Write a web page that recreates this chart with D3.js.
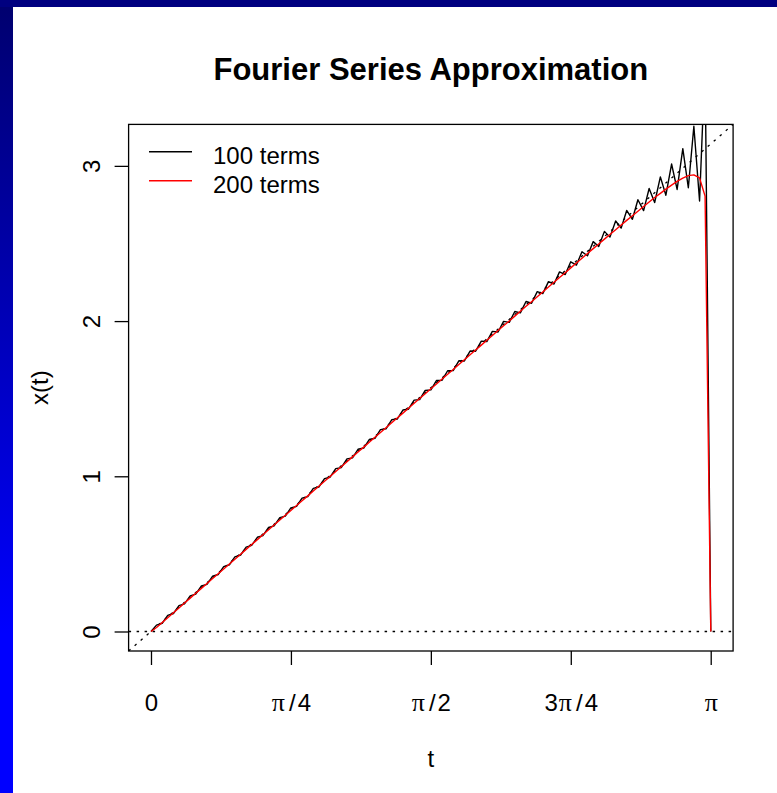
<!DOCTYPE html>
<html>
<head>
<meta charset="utf-8">
<script src="https://cdn.jsdelivr.net/npm/d3@7"></script>
<style>
  body { margin: 0; background: #fff; }
  svg { display: block; font-family: "Liberation Sans", Arial, sans-serif; }
</style>
</head>
<body>
<div id="chart"></div>
<script>
// sample points t (0 .. pi)
const tValues = [
  0, 0.031, 0.063, 0.094, 0.126, 0.157, 0.188, 0.220, 0.251, 0.283,
  0.314, 0.346, 0.377, 0.408, 0.440, 0.471, 0.503, 0.534, 0.565, 0.597,
  0.628, 0.660, 0.691, 0.723, 0.754, 0.785, 0.817, 0.848, 0.880, 0.911,
  0.942, 0.974, 1.005, 1.037, 1.068, 1.100, 1.131, 1.162, 1.194, 1.225,
  1.257, 1.288, 1.319, 1.351, 1.382, 1.414, 1.445, 1.477, 1.508, 1.539,
  1.571, 1.602, 1.634, 1.665, 1.696, 1.728, 1.759, 1.791, 1.822, 1.854,
  1.885, 1.916, 1.948, 1.979, 2.011, 2.042, 2.073, 2.105, 2.136, 2.168,
  2.199, 2.231, 2.262, 2.293, 2.325, 2.356, 2.388, 2.419, 2.450, 2.482,
  2.513, 2.545, 2.576, 2.608, 2.639, 2.670, 2.702, 2.733, 2.765, 2.796,
  2.827, 2.859, 2.890, 2.922, 2.953, 2.985, 3.016, 3.047, 3.079, 3.110,
  3.142
];

// 100 terms (black)
const terms100 = [
  0, 0.041, 0.053, 0.104, 0.116, 0.167, 0.178, 0.230, 0.241, 0.293,
  0.304, 0.356, 0.367, 0.418, 0.430, 0.481, 0.493, 0.544, 0.555, 0.607,
  0.618, 0.670, 0.681, 0.734, 0.743, 0.796, 0.806, 0.859, 0.869, 0.922,
  0.931, 0.985, 0.994, 1.049, 1.056, 1.112, 1.119, 1.174, 1.182, 1.237,
  1.245, 1.301, 1.306, 1.364, 1.369, 1.427, 1.432, 1.491, 1.494, 1.553,
  1.557, 1.617, 1.619, 1.680, 1.681, 1.744, 1.743, 1.807, 1.806, 1.871,
  1.868, 1.934, 1.930, 1.998, 1.992, 2.062, 2.053, 2.126, 2.115, 2.190,
  2.177, 2.254, 2.239, 2.317, 2.300, 2.382, 2.361, 2.447, 2.421, 2.512,
  2.481, 2.578, 2.541, 2.645, 2.599, 2.713, 2.656, 2.782, 2.712, 2.854,
  2.764, 2.929, 2.811, 3.012, 2.848, 3.111, 2.859, 3.255, 2.774, 3.672,
  0
];

// 200 terms (red)
const terms200 = [
  0, 0.026, 0.058, 0.089, 0.121, 0.152, 0.183, 0.215, 0.246, 0.278,
  0.309, 0.341, 0.372, 0.403, 0.435, 0.466, 0.498, 0.529, 0.560, 0.592,
  0.623, 0.655, 0.686, 0.718, 0.749, 0.780, 0.812, 0.843, 0.874, 0.905,
  0.936, 0.968, 0.999, 1.031, 1.062, 1.094, 1.125, 1.156, 1.188, 1.219,
  1.251, 1.282, 1.313, 1.345, 1.375, 1.407, 1.438, 1.470, 1.501, 1.532,
  1.564, 1.595, 1.627, 1.657, 1.688, 1.720, 1.751, 1.783, 1.814, 1.845,
  1.876, 1.907, 1.939, 1.970, 2.001, 2.032, 2.063, 2.095, 2.125, 2.157,
  2.188, 2.220, 2.250, 2.281, 2.312, 2.343, 2.374, 2.405, 2.435, 2.467,
  2.497, 2.528, 2.558, 2.589, 2.619, 2.649, 2.679, 2.708, 2.738, 2.767,
  2.796, 2.823, 2.850, 2.876, 2.900, 2.921, 2.937, 2.942, 2.922, 2.805,
  0
];

const xTickValues = [0, Math.PI / 4, Math.PI / 2, 3 * Math.PI / 4, Math.PI];
// [prefix, has pi, suffix]
const xTickLabels = [["0", false, ""], ["", true, "4"], ["", true, "2"], ["3", true, "4"], ["", true, ""]];
const yTickValues = [0, 1, 2, 3];
const legendLabels = ["100 terms", "200 terms"];
const seriesColors = ["#000000", "#ff0000"];

const width = 777, height = 793;
const box = { left: 128.6, right: 733.1, top: 124.4, bottom: 651 };
const lim = [-0.04 * Math.PI, 1.04 * Math.PI];

const svg = d3.select("#chart").append("svg")
    .attr("width", width)
    .attr("height", height);

// blue frame
const defs = svg.append("defs");
const grad = defs.append("linearGradient")
    .attr("id", "edge")
    .attr("x1", 0).attr("y1", 0).attr("x2", 0).attr("y2", 1);
grad.append("stop").attr("offset", 0).attr("stop-color", "#00006e");
grad.append("stop").attr("offset", 0.8).attr("stop-color", "#0000ff");
grad.append("stop").attr("offset", 1).attr("stop-color", "#0000ff");

svg.append("rect").attr("x", 0).attr("y", 0).attr("width", 13).attr("height", height)
    .attr("fill", "url(#edge)");
svg.append("rect").attr("x", 0).attr("y", 0).attr("width", width).attr("height", 7)
    .attr("fill", "#000080");

defs.append("clipPath").attr("id", "plotclip")
    .append("rect")
    .attr("x", box.left).attr("y", box.top)
    .attr("width", box.right - box.left).attr("height", box.bottom - box.top);

const xScale = d3.scaleLinear().domain(lim).range([box.left, box.right]);
const yScale = d3.scaleLinear().domain(lim).range([box.bottom, box.top]);

// title
svg.append("text")
    .attr("x", (box.left + box.right) / 2)
    .attr("y", 80)
    .attr("text-anchor", "middle")
    .attr("font-size", 31)
    .attr("font-weight", "bold")
    .text("Fourier Series Approximation");

// x axis
const xAxis = svg.append("g")
    .attr("transform", `translate(0, ${box.bottom})`)
    .call(d3.axisBottom(xScale).tickValues(xTickValues).tickSize(14).tickFormat(""));
xAxis.select(".domain").remove();
xAxis.selectAll("line").attr("stroke-width", 1.3);
xAxis.selectAll("text").remove();
xAxis.selectAll(".tick").append("text")
    .attr("y", 60)
    .attr("text-anchor", "middle")
    .attr("font-size", 24)
    .attr("fill", "#000")
    .each(function (d, i) {
        const [pre, hasPi, post] = xTickLabels[i];
        const t = d3.select(this);
        if (pre) t.append("tspan").text(pre);
        if (hasPi) t.append("tspan").attr("dx", pre ? 1 : 0)
            .attr("font-family", "Liberation Serif, serif").attr("font-size", 26).text("\u03c0");
        if (post) {
            t.append("tspan").attr("dx", 4).text("/");
            t.append("tspan").attr("dx", 2).text(post);
        }
    });

// y axis
const yAxis = svg.append("g")
    .attr("transform", `translate(${box.left}, 0)`)
    .call(d3.axisLeft(yScale).tickValues(yTickValues).tickSize(14).tickFormat(""));
yAxis.select(".domain").remove();
yAxis.selectAll("line").attr("stroke-width", 1.3);
yAxis.selectAll("text").remove();
yAxis.selectAll(".tick").append("text")
    .attr("transform", "translate(-29, 0) rotate(-90)")
    .attr("text-anchor", "middle")
    .attr("font-size", 24)
    .attr("fill", "#000")
    .text(d => d);

// axis titles
svg.append("text")
    .attr("x", (box.left + box.right) / 2)
    .attr("y", 767)
    .attr("text-anchor", "middle")
    .attr("font-size", 24)
    .text("t");
svg.append("text")
    .attr("transform", `translate(48, ${(box.top + box.bottom) / 2}) rotate(-90)`)
    .attr("text-anchor", "middle")
    .attr("font-size", 24)
    .text("x(t)");

// reference lines
const plot = svg.append("g").attr("clip-path", "url(#plotclip)");
plot.append("line")
    .attr("x1", box.left).attr("x2", box.right)
    .attr("y1", yScale(0)).attr("y2", yScale(0))
    .attr("stroke", "#000").attr("stroke-width", 1.3).attr("stroke-dasharray", "2.5,5.5");
plot.append("line")
    .attr("x1", xScale(lim[0])).attr("y1", yScale(lim[0]))
    .attr("x2", xScale(lim[1])).attr("y2", yScale(lim[1]))
    .attr("stroke", "#000").attr("stroke-width", 1.3).attr("stroke-dasharray", "2.5,5.5");

// series
const line = d3.line()
    .x((d, i) => xScale(tValues[i]))
    .y(d => yScale(d));

[terms100, terms200].forEach((series, i) => {
    plot.append("path")
        .datum(series)
        .attr("d", line)
        .attr("fill", "none")
        .attr("stroke", seriesColors[i])
        .attr("stroke-width", 1.4)
        .attr("stroke-linejoin", "round");
});

// box
svg.append("rect")
    .attr("x", box.left).attr("y", box.top)
    .attr("width", box.right - box.left).attr("height", box.bottom - box.top)
    .attr("fill", "none").attr("stroke", "#000").attr("stroke-width", 1.3);

// legend
const legend = svg.append("g");
legendLabels.forEach((label, i) => {
    const y = 151.7 + i * 29;
    legend.append("line")
        .attr("x1", 149).attr("x2", 192)
        .attr("y1", y).attr("y2", y)
        .attr("stroke", seriesColors[i]).attr("stroke-width", 1.4);
    legend.append("text")
        .attr("x", 213).attr("y", y + 12.5)
        .attr("font-size", 24)
        .text(label);
});
</script>
</body>
</html>
